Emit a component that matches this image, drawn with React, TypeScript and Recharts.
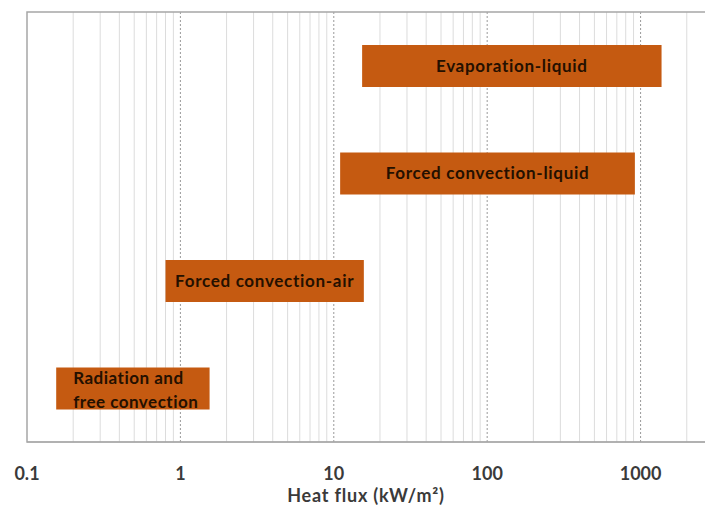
import { BarChart, Bar, XAxis, YAxis, CartesianGrid, LabelList, ReferenceArea } from 'recharts';

// heat transfer modes and their flux ranges (kW/m²)
const modes = [
  'Evaporation-liquid',
  'Forced convection-liquid',
  'Forced convection-air',
  'Radiation and\nfree convection',
];
const fluxLow = [15.3, 11, 0.8, 0.155];
const fluxHigh = [1370, 918, 15.7, 1.55];

const majorTicks = [0.1, 1, 10, 100, 1000];
const majorGrid = [1, 10, 100, 1000];
const minorGrid = [
  0.2, 0.3, 0.4, 0.5, 0.6, 0.7, 0.8, 0.9,
  2, 3, 4, 5, 6, 7, 8, 9,
  20, 30, 40, 50, 60, 70, 80, 90,
  200, 300, 400, 500, 600, 700, 800, 900,
  2000,
];

const data = modes.map((m, i) => ({ name: m, range: [fluxLow[i], fluxHigh[i]] }));

const FONT = 'Lato, "Open Sans", sans-serif';
const BAR = '#C55A11';
const INK = '#241000';
const AXIS = '#a6a6a6';
const DOMAIN: [number, number] = [0.1, 2630];

const fmt = (v: number) => (v < 1 ? String(v) : String(Math.round(v)));

const labelStyle = { fontFamily: FONT, fontWeight: 700, fontSize: 17, letterSpacing: 0.7 };

const renderLabel = (props: any) => {
  const { x, y, width, height, index } = props;
  const lines = modes[index].split('\n');
  const cy = y + height / 2;
  if (lines.length === 1) {
    return (
      <text x={x + width / 2} y={cy} dy="0.35em" textAnchor="middle" fill={INK} style={labelStyle}>
        {lines[0]}
      </text>
    );
  }
  return (
    <text x={x + 17} y={cy} textAnchor="start" fill={INK} style={{ ...labelStyle, letterSpacing: 0.5 }}>
      {lines.map((l, k) => (
        <tspan key={k} x={x + 17} dy={k === 0 ? '-0.25em' : '1.4em'}>{l}</tspan>
      ))}
    </text>
  );
};

export default function App() {
  return (
    <div style={{ position: 'absolute', left: 0, top: 0, background: '#fff' }}>
      <BarChart
        width={705}
        height={506}
        data={data}
        layout="vertical"
        margin={{ top: 12, right: 0, bottom: 0, left: 27 }}
        barCategoryGap={0}
        barSize={42}
      >
        <CartesianGrid horizontal={false} stroke="#dcdcdc" verticalValues={minorGrid} syncWithTicks />
        <CartesianGrid horizontal={false} stroke="#9a9a9a" strokeDasharray="2 2" verticalValues={majorGrid} syncWithTicks />
        <XAxis
          type="number"
          dataKey="range"
          scale="log"
          domain={DOMAIN}
          ticks={majorTicks}
          interval={0}
          allowDataOverflow
          tickFormatter={fmt}
          tickLine={false}
          tickMargin={19}
          height={64}
          axisLine={{ stroke: AXIS }}
          tick={{ fill: '#3a3a3a', fontFamily: FONT, fontWeight: 700, fontSize: 18 }}
          label={{
            value: 'Heat flux (kW/m²)',
            position: 'insideBottom',
            offset: 4,
            style: { fill: '#3a3a3a', fontFamily: FONT, fontWeight: 700, fontSize: 18, letterSpacing: 0.8 },
          }}
        />
        <YAxis type="category" dataKey="name" width={0} tick={false} tickLine={false} axisLine={false} />
        {/* frame: right side pushed past the picture edge */}
        <ReferenceArea x1={DOMAIN[0]} x2={20000} fill="none" stroke={AXIS} strokeWidth={1.5} ifOverflow="visible" />
        <Bar dataKey="range" fill={BAR} isAnimationActive={false}>
          <LabelList dataKey="name" content={renderLabel} />
        </Bar>
      </BarChart>
    </div>
  );
}
